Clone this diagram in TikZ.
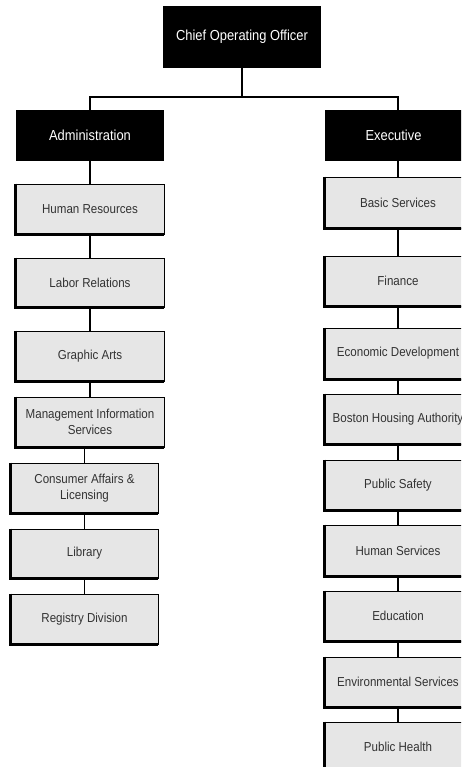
\documentclass[tikz,border=0pt]{standalone}
\usepackage{fontspec}
\setmainfont[FakeStretch=0.89]{Liberation Sans}
\definecolor{boxfill}{HTML}{E6E6E6}
\definecolor{boxtext}{HTML}{333333}
\tikzset{
  headbox/.style={rectangle, fill=black, text=white, inner sep=0pt,
    font=\fontsize{14.5}{17}\selectfont},
  unitbox/.style={rectangle, draw=black, line width=0.9pt, fill=boxfill,
    text=boxtext, inner sep=0pt, align=center,
    font=\fontsize{13}{16}\selectfont},
  leftunit/.style={unitbox, minimum width=148pt, minimum height=50pt},
  rightunit/.style={unitbox, minimum width=146pt, minimum height=50pt},
  link/.style={draw=black, line width=1.1pt},
  edge/.style={draw=black, line width=2.2pt}
}
\begin{document}
\begin{tikzpicture}[x=1pt, y=-1pt]
\useasboundingbox (0,0) rectangle (461,767);
\clip (0,0) rectangle (461,767);

% top level
\node[headbox, minimum width=158pt, minimum height=62pt] (coo) at (242,37) {Chief Operating Officer};
\node[headbox, minimum width=148pt, minimum height=51pt] (adm) at (90,135.5) {Administration};
\node[headbox, minimum width=137pt, minimum height=51pt] (exe) at (393.5,135.5) {Executive};

% administration units
\node[leftunit] (hr)  at (90,209)    {Human Resources};
\node[leftunit, minimum height=49pt] (lr) at (90,282.5) {Labor Relations};
\node[leftunit] (ga)  at (90,356)    {Graphic Arts};
\node[leftunit] (mis) at (90,422)    {Management Information\\Services};
\node[leftunit, minimum width=147pt] (cal) at (84.5,488)   {Consumer Affairs \&\\Licensing};
\node[leftunit, minimum width=147pt, minimum height=49pt] (lib) at (84.5,553.5) {Library};
\node[leftunit, minimum width=147pt] (reg) at (84.5,619)   {Registry Division};

% executive units
\node[rightunit, minimum height=51pt] (bs)  at (398,202.5) {Basic Services};
\node[rightunit] (fin) at (398,281)   {Finance};
\node[rightunit, minimum height=51pt] (ed)  at (398,353.5) {Economic Development};
\node[rightunit] (bha) at (398,419)   {Boston Housing Authority};
\node[rightunit] (ps)  at (398,485)   {Public Safety};
\node[rightunit, minimum height=51pt] (hs)  at (398,550.5) {Human Services};
\node[rightunit] (edu) at (398,616)   {Education};
\node[rightunit] (es)  at (398,682)   {Environmental Services};
\node[rightunit] (ph)  at (398,747)   {Public Health};

% heavier left and bottom edges on the unit boxes
\foreach \n in {hr,lr,ga,mis,cal,lib,reg,bs,fin,ed,bha,ps,hs,edu,es,ph}
  \draw[edge] (\n.north west) -- (\n.south west) -- (\n.south east);

% reporting lines
\coordinate (busL) at (90,97);
\coordinate (busR) at (398,97);
\draw[link] (coo.south) -- (coo.south |- busL);
\draw[link] (adm.north -| busL) -- (busL) -- (busR) -- (busR |- exe.north);

\draw[link] (adm.south) -- (hr.north);
\draw[link] (hr.south) -- (lr.north);
\draw[link] (lr.south) -- (ga.north);
\draw[link] (ga.south) -- (mis.north);
\draw[link] (cal.north |- mis.south) -- (cal.north);
\draw[link] (cal.south) -- (lib.north);
\draw[link] (lib.south) -- (reg.north);

\draw[link] (exe.south -| bs.north) -- (bs.north);
\draw[link] (bs.south) -- (fin.north);
\draw[link] (fin.south) -- (ed.north);
\draw[link] (ed.south) -- (bha.north);
\draw[link] (bha.south) -- (ps.north);
\draw[link] (ps.south) -- (hs.north);
\draw[link] (hs.south) -- (edu.north);
\draw[link] (edu.south) -- (es.north);
\draw[link] (es.south) -- (ph.north);
\end{tikzpicture}
\end{document}
